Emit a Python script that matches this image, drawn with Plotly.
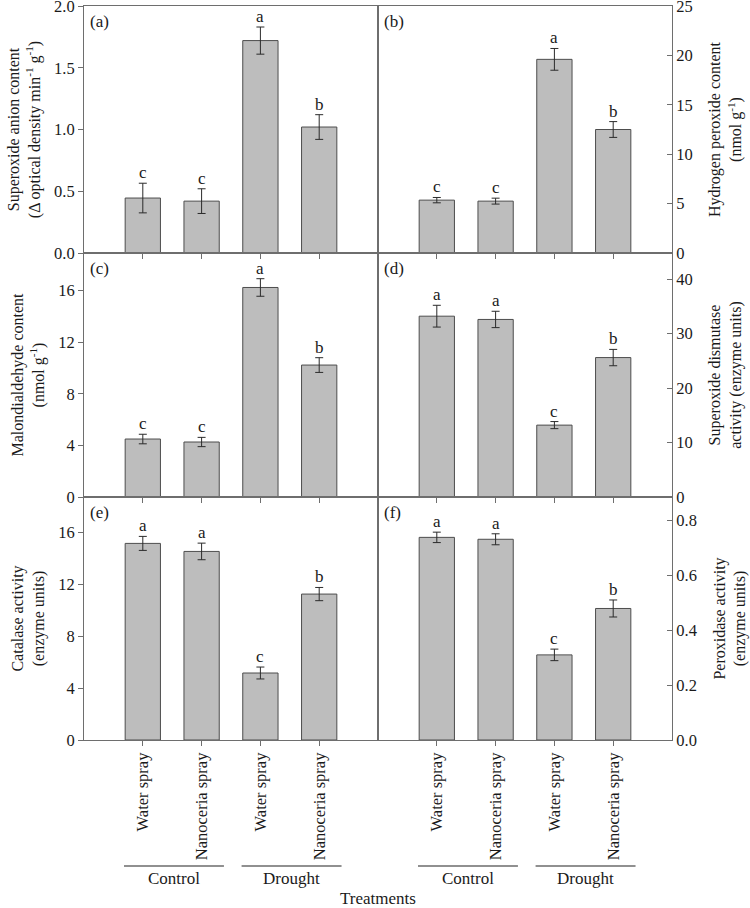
import plotly.graph_objects as go

# ---------------- data ----------------
categories = ["Water spray", "Nanoceria spray", "Water spray", "Nanoceria spray"]
groups = ["Control", "Drought"]
group_members = [[0, 1], [2, 3]]

superoxide = [0.445, 0.42, 1.72, 1.02]
superoxide_err = [0.12, 0.10, 0.11, 0.10]
superoxide_sig = ["c", "c", "a", "b"]

h2o2 = [5.35, 5.25, 19.6, 12.5]
h2o2_err = [0.27, 0.30, 1.1, 0.8]
h2o2_sig = ["c", "c", "a", "b"]

mda = [4.49, 4.26, 16.23, 10.22]
mda_err = [0.37, 0.36, 0.68, 0.57]
mda_sig = ["c", "c", "a", "b"]

sod = [33.2, 32.6, 13.2, 25.6]
sod_err = [2.0, 1.5, 0.65, 1.5]
sod_sig = ["a", "a", "c", "b"]

cat = [15.17, 14.55, 5.17, 11.26]
cat_err = [0.54, 0.64, 0.46, 0.51]
cat_sig = ["a", "a", "c", "b"]

pod = [0.738, 0.731, 0.31, 0.479]
pod_err = [0.019, 0.02, 0.021, 0.031]
pod_sig = ["a", "a", "c", "b"]

panel_labels = ["(a)", "(b)", "(c)", "(d)", "(e)", "(f)"]
y_titles = [
    "Superoxide anion content<br>(Δ optical density min<sup>-1</sup> g<sup>-1</sup>)",
    "Hydrogen peroxide content<br>(nmol g<sup>-1</sup>)",
    "Malondialdehyde content<br>(nmol g<sup>-1</sup>)",
    "Superoxide dismutase<br>activity (enzyme units)",
    "Catalase activity<br>(enzyme units)",
    "Peroxidase activity<br>(enzyme units)",
]
y_ranges = [[0, 2.0], [0, 25], [0, 18.9], [0, 44.8], [0, 18.75], [0, 0.885]]
y_dticks = [0.5, 5, 4, 10, 4, 0.2]
y_formats = [".1f", "d", "d", "d", "d", ".1f"]
x_title = "Treatments"

values = [superoxide, h2o2, mda, sod, cat, pod]
errors = [superoxide_err, h2o2_err, mda_err, sod_err, cat_err, pod_err]
sigs = [superoxide_sig, h2o2_sig, mda_sig, sod_sig, cat_sig, pod_sig]

# ---------------- layout geometry ----------------
W, H = 750, 908
ml, mr, mt, mb = 84, 78, 6, 168
ph = H - mt - mb
row_px = [(6, 253), (253, 497), (497, 740)]
def ydom(top, bot):
    return [(740 - bot) / ph, (740 - top) / ph]

FONT = "Liberation Serif, Times New Roman, serif"
TXT = "#1a1a1a"
AX = "#6e6e6e"

fig = go.Figure()
xpos = list(range(len(categories)))
annotations = []
shapes = []
layout = {}

for i in range(6):
    row, col = divmod(i, 2)
    n = i + 1
    xa = "x" if n == 1 else f"x{n}"
    ya = "y" if n == 1 else f"y{n}"
    fig.add_trace(go.Bar(
        x=xpos, y=values[i], xaxis=xa, yaxis=ya, width=0.6,
        marker=dict(color="#bdbdbd", line=dict(color="#4d4d4d", width=1)),
        error_y=dict(type="data", array=errors[i], visible=True,
                     color="#2b2b2b", thickness=1, width=4),
        showlegend=False, hoverinfo="skip",
    ))
    xdom = [0, 0.5] if col == 0 else [0.5, 1]
    yd = ydom(*row_px[row])
    bottom = row == 2
    layout[f"xaxis{'' if n == 1 else n}"] = dict(
        domain=xdom, anchor=ya, range=[-1, 4],
        tickmode="array", tickvals=xpos, ticktext=categories,
        showticklabels=bottom, tickangle=-90,
        ticks="outside", ticklen=5, tickcolor=AX,
        showline=True, linecolor=AX, linewidth=1, mirror=True,
        showgrid=False, zeroline=False,
        tickfont=dict(family=FONT, size=16.5, color=TXT),
    )
    layout[f"yaxis{'' if n == 1 else n}"] = dict(
        domain=yd, anchor=xa, range=y_ranges[i], dtick=y_dticks[i], tick0=0,
        tickformat=y_formats[i], ticklabeloverflow="allow",
        side="left" if col == 0 else "right",
        ticks="outside" if col == 0 else "inside", ticklen=5, tickcolor=AX,
        showline=True, linecolor=AX, linewidth=1, mirror=True,
        showgrid=False, zeroline=False,
        tickfont=dict(family=FONT, size=16.5, color=TXT),
        title=dict(text=y_titles[i], font=dict(family=FONT, size=16, color=TXT),
                   standoff=9 if col == 0 else 17),
    )
    annotations.append(dict(
        text=panel_labels[i], xref=f"{xa} domain", yref=f"{ya} domain",
        x=0.015, y=0.985, xanchor="left", yanchor="top", showarrow=False,
        font=dict(family=FONT, size=17, color=TXT),
    ))
    for j in xpos:
        annotations.append(dict(
            text=sigs[i][j], xref=xa, yref=ya, x=j, y=values[i][j] + errors[i][j],
            xanchor="center", yanchor="bottom", yshift=-1, showarrow=False,
            font=dict(family=FONT, size=17, color=TXT),
        ))

# group lines and labels under the bottom panels
line_y = (740 - 866) / ph
label_y = (740 - 867) / ph
for xa in ["x5", "x6"]:
    for g, members in zip(groups, group_members):
        x0 = min(members) - 0.32
        x1 = max(members) + 0.38
        shapes.append(dict(type="line", xref=xa, yref="paper",
                           x0=x0, x1=x1, y0=line_y, y1=line_y,
                           line=dict(color="#222", width=1.2)))
        annotations.append(dict(
            text=g, xref=xa, yref="paper", x=(x0 + x1) / 2, y=label_y,
            xanchor="center", yanchor="top", showarrow=False,
            font=dict(family=FONT, size=17, color=TXT),
        ))

annotations.append(dict(
    text=x_title, xref="paper", yref="paper", x=0.5, y=(740 - 887) / ph,
    xanchor="center", yanchor="top", showarrow=False,
    font=dict(family=FONT, size=17, color=TXT),
))

fig.update_layout(
    width=W, height=H,
    margin=dict(l=ml, r=mr, t=mt, b=mb, autoexpand=False),
    paper_bgcolor="white", plot_bgcolor="white",
    annotations=annotations, shapes=shapes, bargap=0.4,
    **layout,
)

fig.write_html("out.html", config={"displayModeBar": False},
               post_script="document.body.style.margin='0';document.body.style.overflow='hidden';")
